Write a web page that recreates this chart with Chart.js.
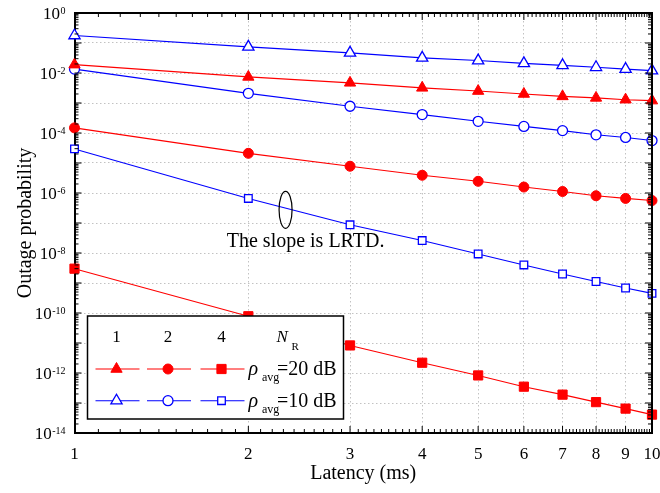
<!DOCTYPE html>
<html>
<head>
<meta charset="utf-8">
<title>Outage probability vs latency</title>
<script src="https://cdn.jsdelivr.net/npm/chart.js@4.4.0/dist/chart.umd.min.js"></script>
<style>
  html, body { margin: 0; padding: 0; background: #fff; }
  #wrap { width: 660px; height: 493px; }
</style>
</head>
<body>
<div id="wrap"><canvas id="outageChart" width="660" height="493"></canvas></div>
<script>
// latency axis (ms)
const latency = [1, 2, 3, 4, 5, 6, 7, 8, 9, 10];

// rho_avg = 20 dB
const nr1At20dB = [1.9e-2, 7.4e-3, 4.7e-3, 3.2e-3, 2.5e-3, 2.0e-3, 1.66e-3, 1.48e-3, 1.29e-3, 1.2e-3];
const nr2At20dB = [1.48e-4, 2.1e-5, 7.8e-6, 3.9e-6, 2.45e-6, 1.58e-6, 1.12e-6, 8.1e-7, 6.6e-7, 5.6e-7];
const nr4At20dB = [3.0e-9, 7.8e-11, 8.3e-12, 2.2e-12, 8.3e-13, 3.5e-13, 1.9e-13, 1.07e-13, 6.5e-14, 4.1e-14];

// rho_avg = 10 dB
const nr1At10dB = [0.178, 0.074, 0.047, 0.032, 0.026, 0.021, 0.018, 0.0155, 0.0135, 0.012];
const nr2At10dB = [1.35e-2, 2.1e-3, 7.8e-4, 4.1e-4, 2.45e-4, 1.66e-4, 1.2e-4, 8.7e-5, 7.1e-5, 5.6e-5];
const nr4At10dB = [2.95e-5, 6.6e-7, 8.7e-8, 2.6e-8, 9.3e-9, 4.0e-9, 2.0e-9, 1.12e-9, 6.8e-10, 4.5e-10];

// y axis: a grid line at every decade, a label at every second one
const yGridExps = [0, -1, -2, -3, -4, -5, -6, -7, -8, -9, -10, -11, -12, -13, -14];
const yLabelExps = ['0', '-2', '-4', '-6', '-8', '-10', '-12', '-14'];

// legend entries
const nrLabels = ['1', '2', '4'];
const snrLabels = ['=20 dB', '=10 dB'];

// annotation anchor (data coordinates)
const slopeNote = { text: 'The slope is LRTD.', x: 1.835, y: 1.6e-8, ellipseX: 2.32, ellipseY: 2.75e-7 };

const RED = '#ff0000';
const BLUE = '#0000ff';
const SERIF = '"Liberation Serif", "Times New Roman", serif';

function series(data, color, style, filled, radius) {
  return {
    data: data.map((v, i) => ({ x: latency[i], y: v })),
    borderColor: color,
    borderWidth: 1.1,
    pointStyle: style,
    pointRadius: radius,
    pointBackgroundColor: filled ? color : '#fff',
    pointBorderColor: color,
    pointBorderWidth: filled ? 1 : 1.3,
    fill: false,
    clip: false,
    tension: 0
  };
}

function drawMarker(ctx, style, x, y, color, filled) {
  ctx.beginPath();
  if (style === 'triangle') {
    const r = 6.5;
    ctx.moveTo(x, y - r);
    ctx.lineTo(x + r * 0.866, y + r / 2);
    ctx.lineTo(x - r * 0.866, y + r / 2);
    ctx.closePath();
  } else if (style === 'circle') {
    ctx.arc(x, y, 5, 0, Math.PI * 2);
  } else {
    const h = filled ? 4.6 : 3.8;
    ctx.rect(x - h, y - h, 2 * h, 2 * h);
  }
  ctx.fillStyle = filled ? color : '#fff';
  ctx.fill();
  ctx.lineWidth = filled ? 1 : 1.3;
  ctx.strokeStyle = color;
  ctx.stroke();
}

const decorations = {
  id: 'decorations',
  afterDatasetsDraw(chart) {
    const ctx = chart.ctx;
    const { left, right, top, bottom } = chart.chartArea;
    const xs = chart.scales.x;
    const ys = chart.scales.y;
    ctx.save();

    // frame (top and right) + inward ticks on all four sides
    ctx.strokeStyle = '#000';
    ctx.lineWidth = 2;
    ctx.beginPath();
    ctx.moveTo(left, top); ctx.lineTo(right, top); ctx.lineTo(right, bottom);
    ctx.stroke();

    ctx.lineWidth = 1;
    ctx.beginPath();
    for (let i = 1; i < 10; i++) {
      for (let j = 0; j < 10; j++) {
        const px = xs.getPixelForValue(i + j * 0.1);
        const len = j === 0 ? 7 : 4;
        ctx.moveTo(px, bottom); ctx.lineTo(px, bottom - len);
        ctx.moveTo(px, top); ctx.lineTo(px, top + len);
      }
    }
    for (let e = 0; e > -14; e--) {
      for (let m = 1; m < 10; m++) {
        const py = ys.getPixelForValue(m * Math.pow(10, e - 1));
        const len = m === 1 ? 7 : 4;
        ctx.moveTo(left, py); ctx.lineTo(left + len, py);
        ctx.moveTo(right, py); ctx.lineTo(right - len, py);
      }
    }
    ctx.stroke();

    // y tick labels with superscript exponents
    ctx.fillStyle = '#000';
    ctx.textBaseline = 'alphabetic';
    yLabelExps.forEach(exp => {
      const py = ys.getPixelForValue(Math.pow(10, Number(exp)));
      const rightEdge = left - 9;
      ctx.font = '10px ' + SERIF;
      const supW = ctx.measureText(exp).width;
      ctx.textAlign = 'left';
      ctx.fillText(exp, rightEdge - supW, py + 1);
      ctx.font = '17px ' + SERIF;
      ctx.textAlign = 'right';
      ctx.fillText('10', rightEdge - supW - 0.5, py + 5.5);
    });

    // slope annotation
    const ex = xs.getPixelForValue(slopeNote.ellipseX);
    const ey = ys.getPixelForValue(slopeNote.ellipseY);
    ctx.beginPath();
    ctx.ellipse(ex, ey, 6.5, 18.5, 0, 0, Math.PI * 2);
    ctx.lineWidth = 1.2;
    ctx.strokeStyle = '#000';
    ctx.stroke();
    ctx.font = '20px ' + SERIF;
    ctx.textAlign = 'left';
    ctx.fillText(slopeNote.text, xs.getPixelForValue(slopeNote.x), ys.getPixelForValue(slopeNote.y));

    // legend table
    const bx = left + 13, by = 316, bw = 256, bh = 103;
    ctx.fillStyle = '#fff';
    ctx.fillRect(bx, by, bw, bh);
    ctx.lineWidth = 1.5;
    ctx.strokeRect(bx, by, bw, bh);

    const colX = [bx + 29, bx + 80.5, bx + 134];
    ctx.fillStyle = '#000';
    ctx.font = '17px ' + SERIF;
    ctx.textAlign = 'center';
    nrLabels.forEach((t, i) => ctx.fillText(t, colX[i], by + 26));
    ctx.textAlign = 'left';
    ctx.font = 'italic 17px ' + SERIF;
    ctx.fillText('N', bx + 189, by + 26);
    ctx.font = '11px ' + SERIF;
    ctx.fillText('R', bx + 204, by + 34);

    const rows = [
      { color: RED, filled: true, y: by + 53, label: snrLabels[0] },
      { color: BLUE, filled: false, y: by + 84.7, label: snrLabels[1] }
    ];
    const styles = ['triangle', 'circle', 'rect'];
    rows.forEach(row => {
      ctx.strokeStyle = row.color;
      ctx.lineWidth = 1.1;
      ctx.beginPath();
      colX.forEach(cx => { ctx.moveTo(cx - 21, row.y); ctx.lineTo(cx + 23, row.y); });
      ctx.stroke();
      colX.forEach((cx, i) => drawMarker(ctx, styles[i], cx, row.y, row.color, row.filled));
      ctx.fillStyle = '#000';
      ctx.textAlign = 'left';
      ctx.font = 'italic 20px ' + SERIF;
      ctx.fillText('\u03C1', bx + 161, row.y + 6);
      ctx.font = '12px ' + SERIF;
      ctx.fillText('avg', bx + 174.5, row.y + 12);
      ctx.font = '20px ' + SERIF;
      ctx.fillText(row.label, bx + 189.5, row.y + 6);
    });

    ctx.restore();
  }
};

const gridStyle = { color: '#c2c2c2', lineWidth: 1, drawTicks: false };
const borderStyle = { display: true, color: '#000', width: 2, dash: [1.5, 2.5] };

const ctx = document.getElementById('outageChart').getContext('2d');
const chart = new Chart(ctx, {
  type: 'line',
  data: {
    datasets: [
      series(nr1At10dB, BLUE, 'triangle', false, 6.5),
      series(nr1At20dB, RED, 'triangle', true, 6.5),
      series(nr2At10dB, BLUE, 'circle', false, 5),
      series(nr2At20dB, RED, 'circle', true, 5),
      series(nr4At10dB, BLUE, 'rect', false, 5.4),
      series(nr4At20dB, RED, 'rect', true, 6.5)
    ]
  },
  options: {
    responsive: false,
    animation: false,
    layout: { padding: { top: 13, right: 8, left: 0, bottom: 0 } },
    plugins: {
      legend: { display: false },
      tooltip: { enabled: false }
    },
    scales: {
      x: {
        type: 'logarithmic',
        min: 1,
        max: 10,
        afterBuildTicks: s => { s.ticks = latency.map(v => ({ value: v })); },
        afterFit: s => { s.height = 60; s.paddingLeft = 0; s.paddingRight = 0; },
        grid: gridStyle,
        border: borderStyle,
        ticks: {
          autoSkip: false,
          maxRotation: 0,
          padding: 11,
          color: '#000',
          font: { family: SERIF, size: 17 },
          callback: v => String(v)
        },
        title: {
          display: true,
          text: 'Latency (ms)',
          color: '#000',
          font: { family: SERIF, size: 20 },
          padding: { top: 0, bottom: 7 }
        }
      },
      y: {
        type: 'logarithmic',
        min: 1e-14,
        max: 1,
        afterBuildTicks: s => { s.ticks = yGridExps.map(e => ({ value: Math.pow(10, e) })); },
        afterFit: s => { s.width = 74.5; s.paddingTop = 0; s.paddingBottom = 0; },
        grid: gridStyle,
        border: borderStyle,
        ticks: { display: false },
        title: {
          display: true,
          text: 'Outage probability',
          color: '#000',
          font: { family: SERIF, size: 20 },
          padding: { top: 14, bottom: 0 }
        }
      }
    }
  },
  plugins: [decorations]
});
</script>
</body>
</html>
